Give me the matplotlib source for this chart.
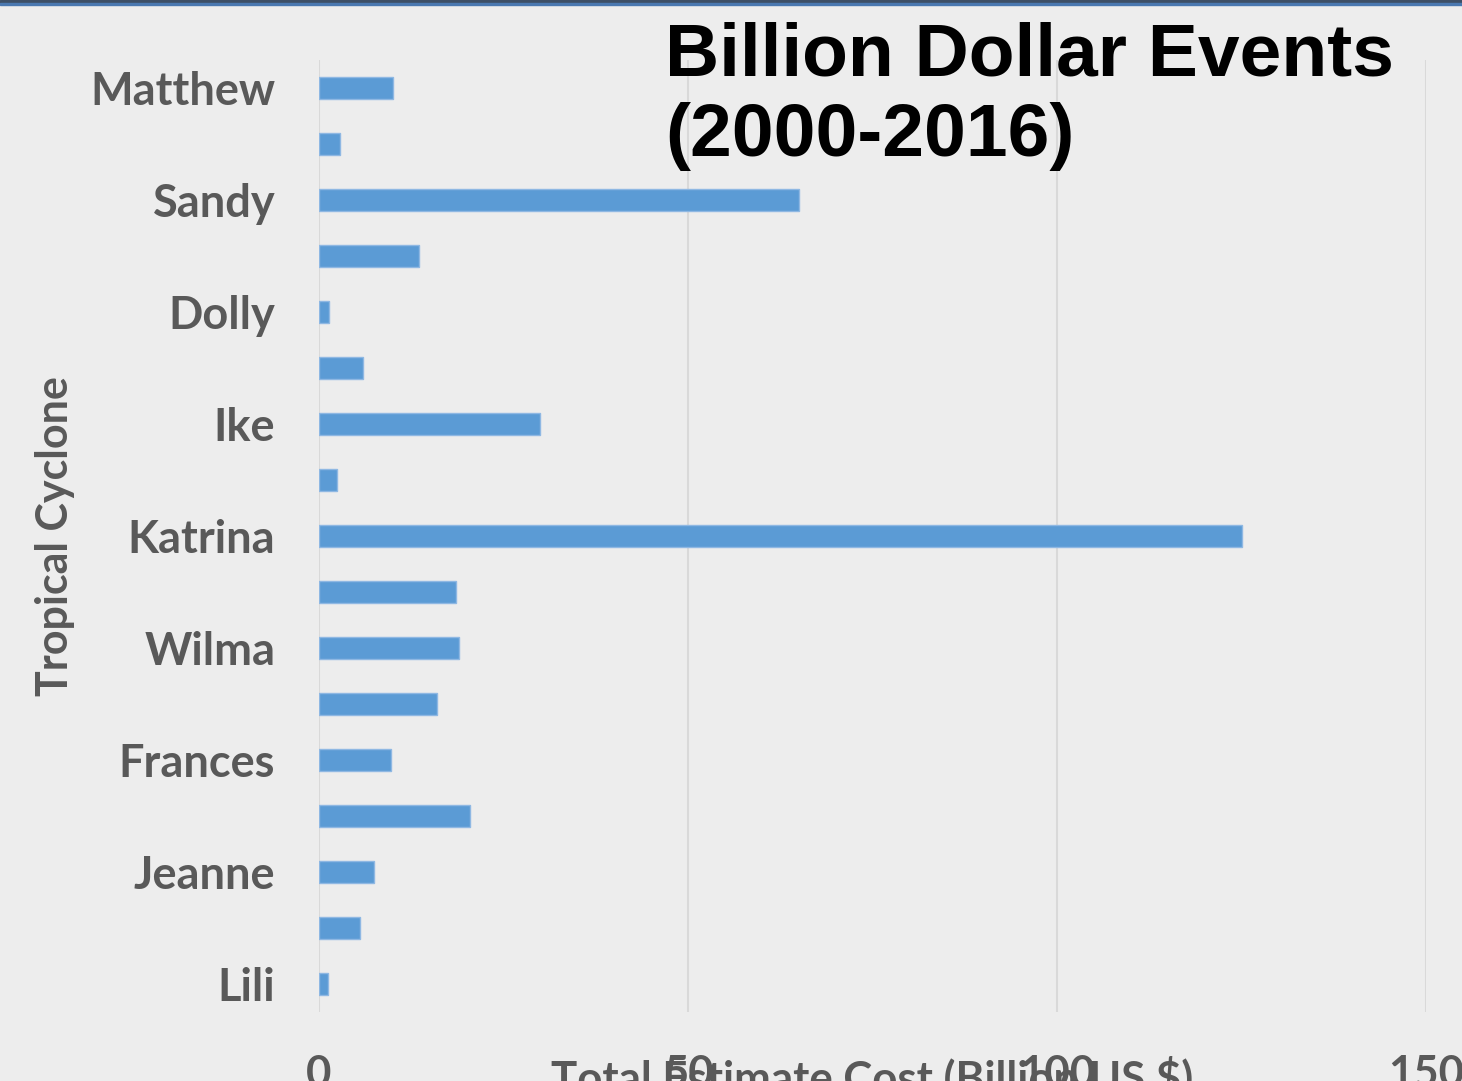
import matplotlib
matplotlib.use('Agg')
import matplotlib.pyplot as plt
from matplotlib.patches import Rectangle

# storms, top to bottom (only every other one is labelled in the original)
storms = ["Matthew", "", "Sandy", "", "Dolly", "", "Ike", "", "Katrina",
          "", "Wilma", "", "Frances", "", "Jeanne", "", "Lili"]
cost = [10.0, 2.8, 65.0, 13.5, 1.3, 6.0, 30.0, 2.5, 125.0,
        18.6, 19.0, 16.0, 9.8, 20.5, 7.5, 5.6, 1.2]
xticks = [0, 50, 100, 150]

bg = "#ededed"
grey = "#595959"
blue = "#5b9bd5"

fig = plt.figure(figsize=(14.62, 10.81), dpi=100, facecolor=bg)
ax = fig.add_axes([319 / 1462, 1 - 1012 / 1081, 1107 / 1462, 952 / 1081])
ax.set_facecolor(bg)

ypos = list(range(len(storms)))
ax.barh(ypos, cost, height=0.4, color=blue, edgecolor="#8fb8e3", linewidth=1, zorder=3)
ax.set_ylim(len(storms) - 0.5, -0.5)
ax.set_xlim(0, 150)

ax.set_yticks(ypos)
ax.set_yticklabels(storms, fontfamily="Lato", fontweight="bold", fontsize=32.5, color=grey)
ax.set_xticks(xticks)
ax.set_xticklabels([str(v) for v in xticks], fontfamily="Lato", fontweight="bold",
                   fontsize=31.5, color=grey)
ax.tick_params(axis="y", length=0, pad=31.5)
ax.tick_params(axis="x", length=0, pad=30.5)

ax.grid(axis="x", color="#d9d9d9", linewidth=1.5, zorder=0)
for s in ax.spines.values():
    s.set_visible(False)

ax.set_xlabel("Total Estimate Cost (Billion US $)", fontfamily="Lato", fontweight="bold",
              fontsize=31.5, color=grey)
ax.xaxis.set_label_coords(0.5, -0.045)
ax.set_ylabel("Tropical Cyclone", fontfamily="Lato", fontweight="bold", fontsize=31, color=grey)
ax.yaxis.label.set_va("center")
ax.yaxis.set_label_coords(-0.2385, 0.5)

fig.text(665 / 1462, 1 - 21 / 1081, "Billion Dollar Events\n(2000-2016)",
         fontfamily="Liberation Sans", fontweight="bold", fontsize=54, color="black",
         ha="left", va="top", linespacing=1.22)

# dark band along the top edge
fig.patches.append(Rectangle((0, 1 - 3 / 1081), 1, 3 / 1081, transform=fig.transFigure,
                             color="#3d4f66", zorder=10))
fig.patches.append(Rectangle((0, 1 - 5 / 1081), 1, 2 / 1081, transform=fig.transFigure,
                             color="#4a78b0", zorder=10))

fig.savefig("out.png", dpi=100, facecolor=bg)
